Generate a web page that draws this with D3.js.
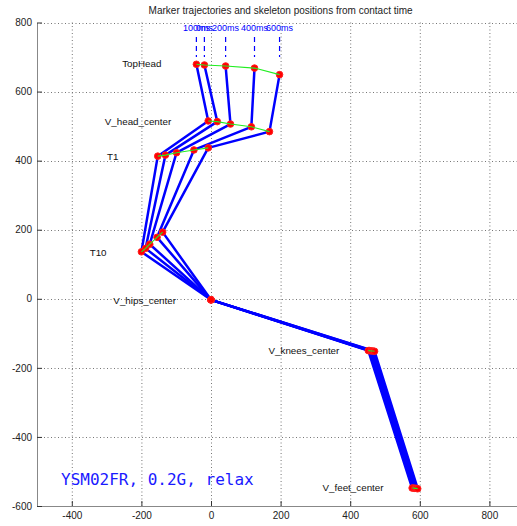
<!DOCTYPE html>
<html>
<head>
<meta charset="utf-8">
<script src="https://cdn.jsdelivr.net/npm/d3@7"></script>
<style>
  html, body { margin: 0; padding: 0; background: #fff; }
  svg { display: block; }
  text { font-family: "Liberation Sans", Arial, sans-serif; }
</style>
</head>
<body>
<svg id="chart" width="517" height="526"></svg>
<script>
// Time stamps after contact, one skeleton per frame
const times = ["0ms", "100ms", "200ms", "400ms", "600ms"];

// Joint names along the chain, top to bottom
const joints = ["TopHead", "V_head_center", "T1", "T10", "V_hips_center", "V_knees_center", "V_feet_center"];

// Joint coordinates (mm) per frame, in the order of `times`
const topHeadX = [-19, -42, 42, 125, 197];
const topHeadY = [677, 679, 674, 668, 649];
const headX    = [18, -8, 56, 116, 168];
const headY    = [513, 515, 506, 498, 484];
const t1X      = [-131, -153, -99, -49, -8];
const t1Y      = [416, 413, 423, 431, 437];
const t10X     = [-188, -200, -176, -155, -139];
const t10Y     = [146, 136, 158, 178, 193];
const hipsX    = [0, 0, 0, 0, 0];
const hipsY    = [-3, -3, -3, -3, -3];
const kneesX   = [455, 452, 460, 465, 470];
const kneesY   = [-150, -150, -151, -151, -152];
const feetX    = [582, 578, 586, 590, 594];
const feetY    = [-548, -548, -549, -549, -550];

// Axis ticks
const xTicks = [-400, -200, 0, 200, 400, 600, 800];
const yTicks = [-600, -400, -200, 0, 200, 400, 600, 800];

const chartTitle = "Marker trajectories and skeleton positions from contact time";
const caption = "YSM02FR, 0.2G, relax";

// ---- layout ----
const svg = d3.select("#chart");
const plot = { left: 37, right: 524.2, top: 22.5, bottom: 506 };

const x = d3.scaleLinear().domain([-500, 900]).range([plot.left, plot.right]);
const y = d3.scaleLinear().domain([-600, 800]).range([plot.bottom, plot.top]);

const jointX = [topHeadX, headX, t1X, t10X, hipsX, kneesX, feetX];
const jointY = [topHeadY, headY, t1Y, t10Y, hipsY, kneesY, feetY];

// frames[f] = list of joints {x,y} for that frame
const frames = times.map((t, f) => joints.map((j, k) => ({ x: jointX[k][f], y: jointY[k][f] })));
// trajectories[k] = path of joint k across frames
const trajectories = joints.map((j, k) => times.map((t, f) => ({ x: jointX[k][f], y: jointY[k][f] })));

// grid
const grid = svg.append("g").attr("stroke", "#555").attr("stroke-width", 1)
  .attr("stroke-dasharray", "1,2.5").attr("opacity", 0.8);
grid.selectAll("line.gx").data(xTicks).join("line")
  .attr("x1", d => x(d) + 0.5).attr("x2", d => x(d) + 0.5)
  .attr("y1", plot.top).attr("y2", plot.bottom);
grid.selectAll("line.gy").data(yTicks.filter(d => d > -600)).join("line")
  .attr("y1", d => Math.round(y(d)) + 0.5).attr("y2", d => Math.round(y(d)) + 0.5)
  .attr("x1", plot.left).attr("x2", plot.right);

// axes
const fmt = d => String(d);
const xAxis = svg.append("g").attr("transform", `translate(0,${plot.bottom})`)
  .call(d3.axisBottom(x).tickValues(xTicks).tickFormat(fmt).tickSizeInner(-5).tickSizeOuter(0).tickPadding(6));
const yAxis = svg.append("g").attr("transform", `translate(${plot.left},0)`)
  .call(d3.axisLeft(y).tickValues(yTicks).tickFormat(fmt).tickSizeInner(-5).tickSizeOuter(0).tickPadding(5));
[xAxis, yAxis].forEach(a => {
  a.select(".domain").attr("stroke", "#888");
  a.selectAll(".tick line").attr("stroke", "#333");
  a.selectAll(".tick text").attr("fill", "#222").style("font-size", "10px")
    .style("font-family", "'Liberation Sans', Arial, sans-serif");
});

// title
svg.append("text").attr("x", (plot.left + plot.right) / 2).attr("y", 14)
  .attr("text-anchor", "middle").style("font-size", "10px").attr("fill", "#222").text(chartTitle);

// skeleton segments
const line = d3.line().x(d => x(d.x)).y(d => y(d.y));
svg.append("g").selectAll("path").data(frames).join("path")
  .attr("d", line).attr("fill", "none").attr("stroke", "#0000ff")
  .attr("stroke-width", 2.5).attr("stroke-linejoin", "round");

// joint markers
svg.append("g").selectAll("circle").data(frames.flat()).join("circle")
  .attr("cx", d => x(d.x)).attr("cy", d => y(d.y)).attr("r", 3.3)
  .attr("fill", "#ff0000").attr("stroke", "#ff2020").attr("stroke-width", 1);

// joint trajectories
const sorted = p => p.slice().sort((a, b) => a.x - b.x);
svg.append("g").selectAll("path").data(trajectories).join("path")
  .attr("d", p => line(sorted(p))).attr("fill", "none").attr("stroke", "#22ee22").attr("stroke-width", 1.1);

// time markers above the top of the head
const timeG = svg.append("g");
timeG.selectAll("line").data(times).join("line")
  .attr("x1", (t, f) => x(topHeadX[f])).attr("x2", (t, f) => x(topHeadX[f]))
  .attr("y1", 37).attr("y2", 57)
  .attr("stroke", "#0000ff").attr("stroke-width", 1.2).attr("stroke-dasharray", "5,4");
timeG.selectAll("text").data(times).join("text")
  .attr("x", (t, f) => x(topHeadX[f])).attr("y", 31)
  .attr("text-anchor", "middle").style("font-size", "9px").attr("fill", "#0000ff").text(t => t);

// joint names, right-aligned next to the first frame
const labelOffset = [
  { dx: 43, dy: -1 }, { dx: 46, dy: 0 }, { dx: 47, dy: 1 }, { dx: 39, dy: 4 },
  { dx: 35, dy: 1 }, { dx: 30, dy: 0 }, { dx: 30, dy: -1 }
];
svg.append("g").selectAll("text").data(joints).join("text")
  .attr("x", (j, k) => x(jointX[k][0]) - labelOffset[k].dx)
  .attr("y", (j, k) => y(jointY[k][0]) + labelOffset[k].dy)
  .attr("text-anchor", "end").attr("dominant-baseline", "central")
  .style("font-size", "9.8px").attr("fill", "#111").text(j => j);

// run caption
svg.append("text").attr("x", 61).attr("y", 485)
  .style("font-family", "'DejaVu Sans Mono', monospace").style("font-size", "16px")
  .attr("fill", "#1a1aff").text(caption);
</script>
</body>
</html>
